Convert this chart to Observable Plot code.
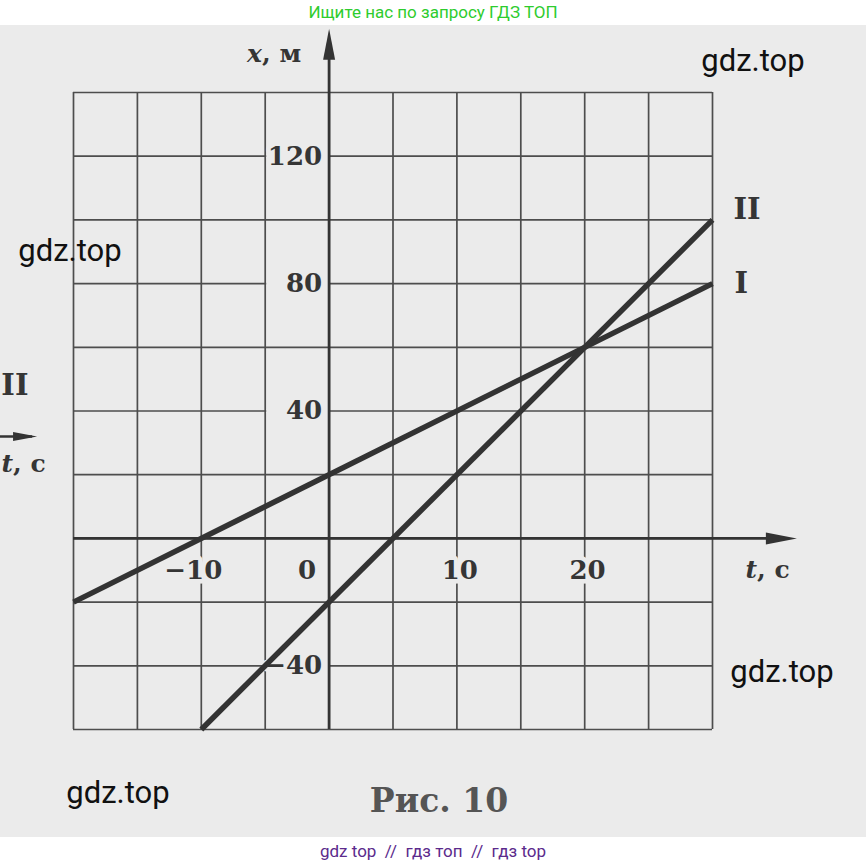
<!DOCTYPE html>
<html>
<head>
<meta charset="utf-8">
<script src="https://cdn.jsdelivr.net/npm/d3@7"></script>
<script src="https://cdn.jsdelivr.net/npm/@observablehq/plot@0.6"></script>
<style>
  html, body { margin: 0; padding: 0; background: #fff; }
  #page { position: relative; width: 866px; height: 865px; overflow: hidden; font-family: Roboto, sans-serif; }
  #top { position: absolute; left: 0; top: 0; width: 866px; height: 25px; line-height: 25px;
         text-align: center; color: #2ecc2e; font-size: 17px; }
  #paper { position: absolute; left: 0; top: 25px; width: 866px; height: 812px; background: #ebebeb; }
  #bottom { position: absolute; left: 0; top: 837px; width: 866px; height: 28px; line-height: 28px;
            text-align: center; color: #5b2a8c; font-size: 17px; white-space: pre; }
  .wm { position: absolute; transform: translate(-50%, -50%); font-family: Roboto, sans-serif;
        font-size: 31px; color: #111; white-space: nowrap; }
  #caption { position: absolute; left: 439px; top: 800px; transform: translate(-50%, -50%);
             font-family: "DejaVu Serif", serif; font-size: 33px; font-weight: bold; color: #555; white-space: nowrap; }
</style>
</head>
<body>
<div id="page">
  <div id="top">Ищите нас по запросу ГДЗ ТОП</div>
  <div id="paper"></div>
  <div class="wm" style="left:753px; top:60px;">gdz.top</div>
  <div class="wm" style="left:70px; top:250px;">gdz.top</div>
  <div class="wm" style="left:782px; top:671px;">gdz.top</div>
  <div class="wm" style="left:118px; top:792px;">gdz.top</div>
  <div id="caption">Рис. 10</div>
  <div id="bottom">gdz top  //  гдз топ  //  гдз top</div>
</div>
<script>
// Grid steps: time t (s) and coordinate x (m)
const gridT = [-20, -15, -10, -5, 0, 5, 10, 15, 20, 25, 30];
const gridX = [-60, -40, -20, 0, 20, 40, 60, 80, 100, 120, 140];

// Tick labels
const tTickLabels = [-10, 10, 20];
const originLabel = [0];
const xTickLabels = [120, 80, 40, -40];

// Body I: x = 20 + 2t
const tI = [-20, 30];
const xI = [-20, 80];
// Body II: x = -20 + 4t
const tII = [-10, 30];
const xII = [-60, 100];

const bodyI = tI.map((t, i) => ({t, x: xI[i]}));
const bodyII = tII.map((t, i) => ({t, x: xII[i]}));

// Axis extents (arrow tips beyond the grid)
const tAxisEnd = 36.6;
const xAxisEnd = 160;

const ink = "#333";
const paper = "#ebebeb";
const fmt = d => (d < 0 ? "\u2212" + Math.abs(d) : String(d));

// Narrow filled arrowheads, tip at the anchor point
const arrowUp = {draw(ctx) { ctx.moveTo(0, 0); ctx.lineTo(6, 31); ctx.lineTo(-6, 31); ctx.closePath(); }};
const arrowRight = {draw(ctx) { ctx.moveTo(0, 0); ctx.lineTo(-31, 6); ctx.lineTo(-31, -6); ctx.closePath(); }};
const arrowRightSmall = {draw(ctx) { ctx.moveTo(0, 0); ctx.lineTo(-24, 4.5); ctx.lineTo(-24, -4.5); ctx.closePath(); }};

const serif = {fontFamily: "DejaVu Serif", fontWeight: "bold", fill: "#353535"};
const labelFont = {...serif, fontSize: 26, stroke: paper, strokeWidth: 9, paintOrder: "stroke"};

const chart = Plot.plot({
  width: 866,
  height: 812,
  marginLeft: 73,
  marginRight: 154,
  marginTop: 67,
  marginBottom: 108,
  x: {domain: [-20, 30], axis: null},
  y: {domain: [-60, 140], axis: null},
  style: {background: "transparent", overflow: "visible", fontFamily: "DejaVu Serif"},
  marks: [
    // grid
    Plot.ruleX(gridT, {y1: -60, y2: 140, stroke: "#4d4d4d", strokeWidth: 1.7}),
    Plot.ruleY(gridX, {x1: -20, x2: 30, stroke: "#4d4d4d", strokeWidth: 1.7}),
    // blank cells of the grid behind the x tick labels
    Plot.ruleY(xTickLabels, {x1: -4.88, x2: 0, stroke: paper, strokeWidth: 4}),
    // axes with arrows
    Plot.ruleX([0], {y1: -60, y2: xAxisEnd - 5, stroke: ink, strokeWidth: 2.8}),
    Plot.ruleY([0], {x1: -20, x2: tAxisEnd - 1, stroke: ink, strokeWidth: 2.8}),
    Plot.dot([0], {x: d => d, y: xAxisEnd, symbol: arrowUp, fill: ink, stroke: "none"}),
    Plot.dot([0], {x: tAxisEnd, y: d => d, symbol: arrowRight, fill: ink, stroke: "none"}),
    // tick labels
    Plot.text(xTickLabels, {x: 0, y: d => d, text: fmt, textAnchor: "end", dx: -7, ...labelFont}),
    Plot.text(tTickLabels, {x: d => d, y: -10, text: fmt, textAnchor: "end", dx: 21, ...labelFont}),
    Plot.text(originLabel, {x: d => d, y: -10, text: fmt, textAnchor: "end", dx: -13, ...labelFont}),
    // axis titles
    Plot.text(["x, м"], {x: 0, y: 152, text: d => d, textAnchor: "end", dx: -28, fontSize: 25, ...serif}),
    Plot.text(["t, с"], {x: 30, y: -10, text: d => d, textAnchor: "start", dx: 33, fontSize: 25, ...serif}),
    // motion graphs
    Plot.line(bodyI, {x: "t", y: "x", stroke: ink, strokeWidth: 5.5, strokeLinecap: "butt"}),
    Plot.line(bodyII, {x: "t", y: "x", stroke: ink, strokeWidth: 5.5, strokeLinecap: "butt"}),
    Plot.text(bodyI.slice(-1), {x: "t", y: "x", text: () => "I", textAnchor: "start", dx: 22, fontSize: 29, ...serif}),
    Plot.text(bodyII.slice(-1), {x: "t", y: "x", text: () => "II", textAnchor: "start", dx: 21, dy: -10, fontSize: 29, ...serif}),
    // edge of the neighbouring figure on the page
    Plot.text(["II"], {frameAnchor: "left", y: 48, text: d => d, textAnchor: "end", dx: -45, fontSize: 29, ...serif}),
    Plot.ruleY([32], {x1: -26, x2: -23.2, stroke: ink, strokeWidth: 2.6}),
    Plot.dot([32], {x: -22.85, y: d => d, symbol: arrowRightSmall, fill: ink, stroke: "none"}),
    Plot.text(["t, с"], {frameAnchor: "left", y: 23.5, text: d => d, textAnchor: "start", dx: -72, fontSize: 25, ...serif})
  ]
});

// italic variable names in axis titles
d3.select(chart).selectAll("text").each(function() {
  const s = this.textContent;
  if (s === "x, м" || s === "t, с") {
    const el = d3.select(this);
    const v = s[0], rest = s.slice(1);
    el.text(null);
    el.append("tspan").attr("font-style", "italic").text(v);
    el.append("tspan").text(rest);
  }
});

document.getElementById("paper").appendChild(chart);
</script>
</body>
</html>
